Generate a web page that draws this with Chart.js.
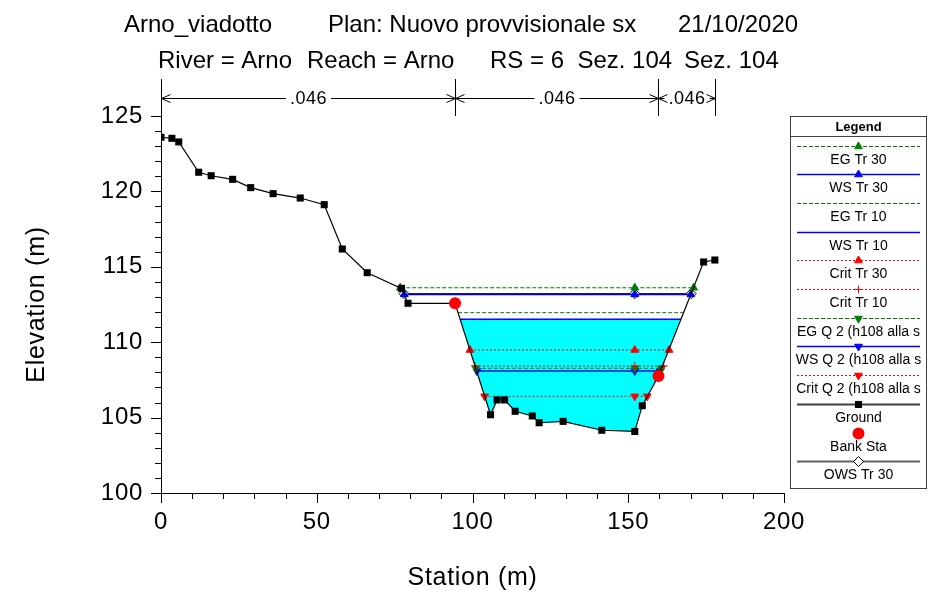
<!DOCTYPE html>
<html>
<head>
<meta charset="utf-8">
<script src="https://cdn.jsdelivr.net/npm/chart.js@4.4.0/dist/chart.umd.min.js"></script>
<style>
html, body { margin: 0; padding: 0; background: #fff; }
#wrap { width: 932px; height: 598px; }
</style>
</head>
<body>
<div id="wrap"><canvas id="xsChart" width="932" height="598"></canvas></div>
<script>
// Ground profile (station m, elevation m)
var groundSta = [0, 3.5, 5.7, 12.1, 16.1, 23.0, 28.8, 36.0, 44.7, 52.4, 58.2, 66.2, 77.2, 79.3, 94.4, 105.8, 107.9, 110.3, 113.7, 119.2, 121.4, 129.1, 141.5, 152.1, 154.5, 159.7, 174.2, 177.8];
var groundElev = [123.59, 123.52, 123.28, 121.27, 121.04, 120.80, 120.25, 119.85, 119.56, 119.12, 116.18, 114.61, 113.57, 112.58, 112.58, 105.19, 106.17, 106.17, 105.42, 105.11, 104.66, 104.75, 104.16, 104.08, 105.79, 107.76, 115.32, 115.45];

// Bank stations
var bankSta = [94.4, 159.7];
var bankElev = [112.58, 107.76];

// Water surface / energy / critical levels
var profileNames = ['EG Tr 30', 'WS Tr 30', 'EG Tr 10', 'WS Tr 10', 'Crit Tr 30', 'Crit Tr 10', 'EG Q 2 (h108 alla s', 'WS Q 2 (h108 alla s', 'Crit Q 2 (h108 alla s'];
var profileElev = [113.61, 113.17, 111.96, 111.52, 109.48, 108.42, 108.27, 108.09, 106.41];
var profileSta = [
  [76.8, 152.1, 171.0],
  [78.1, 152.1, 170.1],
  [95.4, 167.6],
  [96.1, 166.9],
  [99.2, 152.1, 163.1],
  [100.8, 152.1, 161.4],
  [101.1, 152.1, 160.7],
  [101.4, 152.1, 160.3],
  [103.9, 152.1, 156.1]
];

// OWS Tr 30
var owsSta = [78.0, 152.1, 170.2];
var owsElev = 113.22;

// Manning n regions
var nStations = [0, 94.4, 159.7, 177.8];
var nValues = ['.046', '.046', '.046'];

var titleLine1 = ['Arno_viadotto', 'Plan: Nuovo provvisionale sx', '21/10/2020'];
var titleLine2 = ['River = Arno', 'Reach = Arno', 'RS = 6  Sez. 104', 'Sez. 104'];

var FONT = '"Liberation Sans", Arial, sans-serif';
var GREEN = '#008000', BLUE = '#0000FF', RED = '#FF0000';

function levelPoints(sta, elev) {
  return sta.map(function (s) { return { x: s, y: elev }; });
}

var styles = [
  { color: GREEN, dash: [4, 2], width: 1, ps: 'triangle', r: 4.5, rot: 0 },
  { color: BLUE, dash: [], width: 1.5, ps: 'triangle', r: 4.5, rot: 0 },
  { color: GREEN, dash: [4, 2], width: 1, ps: false, r: 0, rot: 0 },
  { color: BLUE, dash: [], width: 1.5, ps: false, r: 0, rot: 0 },
  { color: RED, dash: [2, 2], width: 1, ps: 'triangle', r: 4.5, rot: 0 },
  { color: RED, dash: [2, 2], width: 1, ps: 'cross', r: 4, rot: 0 },
  { color: GREEN, dash: [4, 2], width: 1, ps: 'triangle', r: 4.5, rot: 180 },
  { color: BLUE, dash: [], width: 1.5, ps: 'triangle', r: 4.5, rot: 180 },
  { color: RED, dash: [2, 2], width: 1, ps: 'triangle', r: 4.5, rot: 180 }
];

var datasets = profileNames.map(function (name, i) {
  var st = styles[i];
  return {
    label: name,
    data: levelPoints(profileSta[i], profileElev[i]),
    borderColor: st.color,
    backgroundColor: st.color,
    borderWidth: st.width,
    borderDash: st.dash,
    pointStyle: st.ps,
    pointRadius: st.r,
    pointRotation: st.rot,
    pointBorderWidth: 1,
    fill: false,
    order: 5
  };
});
// water fill under WS Tr 10
datasets[3].fill = { target: 9, above: '#00FFFF', below: '#00FFFF' };
datasets[3].order = 20;

datasets.push({
  label: 'Ground',
  data: groundSta.map(function (s, i) { return { x: s, y: groundElev[i] }; }),
  borderColor: '#000',
  legendLineColor: '#404040',
  legendLineWidth: 2,
  backgroundColor: '#000',
  borderWidth: 1.2,
  pointStyle: 'rect',
  pointRadius: 5,
  pointBorderWidth: 0,
  fill: false,
  order: 2
});
datasets.push({
  label: 'Bank Sta',
  data: bankSta.map(function (s, i) { return { x: s, y: bankElev[i] }; }),
  showLine: false,
  borderColor: RED,
  backgroundColor: RED,
  pointStyle: 'circle',
  pointRadius: 6,
  pointBorderWidth: 0,
  fill: false,
  order: 1
});
datasets.push({
  label: 'OWS Tr 30',
  data: levelPoints(owsSta, owsElev),
  borderColor: '#000',
  legendLineColor: '#606060',
  legendLineWidth: 2,
  backgroundColor: '#fff',
  pointBorderColor: '#000',
  borderWidth: 1,
  pointStyle: 'rectRot',
  pointRadius: 5,
  pointBorderWidth: 1,
  fill: false,
  order: 6
});

var tickPlugin = {
  id: 'hecTicks',
  beforeDraw: function (chart) {
    chart.ctx.letterSpacing = '0.7px';
  },
  afterDraw: function (chart) {
    var ctx = chart.ctx, xs = chart.scales.x, ys = chart.scales.y, a = chart.chartArea;
    ctx.save();
    ctx.strokeStyle = '#000';
    ctx.lineWidth = 1;
    ctx.beginPath();
    for (var v = 0; v <= 200; v += 10) {
      var px = Math.round(xs.getPixelForValue(v)) + 0.5;
      ctx.moveTo(px, a.bottom);
      ctx.lineTo(px, a.bottom + (v % 50 === 0 ? 10 : 6));
    }
    for (var e = 100; e <= 125; e += 1) {
      var py = Math.round(ys.getPixelForValue(e)) + 0.5;
      ctx.moveTo(a.left, py);
      ctx.lineTo(a.left - (e % 5 === 0 ? 10 : 6), py);
    }
    ctx.stroke();
    ctx.restore();
  }
};

var roughPlugin = {
  id: 'hecRoughness',
  afterDraw: function (chart) {
    var ctx = chart.ctx, xs = chart.scales.x;
    var yA = 98.5;
    ctx.save();
    ctx.strokeStyle = '#000';
    ctx.fillStyle = '#000';
    ctx.lineWidth = 1;
    ctx.setLineDash([]);
    ctx.letterSpacing = '0.5px';
    ctx.font = '18px ' + FONT;
    ctx.textAlign = 'center';
    ctx.textBaseline = 'middle';
    var pxs = nStations.map(function (s) { return Math.round(xs.getPixelForValue(s)) + 0.5; });
    ctx.beginPath();
    pxs.forEach(function (px) { ctx.moveTo(px, 79); ctx.lineTo(px, 116); });
    ctx.stroke();
    for (var i = 0; i < nValues.length; i++) {
      var x1 = pxs[i], x2 = pxs[i + 1], mid = (x1 + x2) / 2;
      var tw = ctx.measureText(nValues[i]).width;
      var gap = tw / 2 + 4;
      var ah = Math.min(9, (x2 - x1) / 2 - tw / 2);
      ctx.beginPath();
      if (mid - gap > x1) { ctx.moveTo(x1, yA); ctx.lineTo(mid - gap, yA); }
      if (mid + gap < x2) { ctx.moveTo(mid + gap, yA); ctx.lineTo(x2, yA); }
      ctx.moveTo(x1 + ah, yA - 4); ctx.lineTo(x1, yA); ctx.lineTo(x1 + ah, yA + 4);
      ctx.moveTo(x2 - ah, yA - 4); ctx.lineTo(x2, yA); ctx.lineTo(x2 - ah, yA + 4);
      ctx.stroke();
      ctx.fillText(nValues[i], mid, yA + 1);
    }
    ctx.restore();
  }
};

var titlePlugin = {
  id: 'hecTitle',
  afterDraw: function (chart) {
    var ctx = chart.ctx;
    ctx.save();
    ctx.fillStyle = '#000';
    ctx.font = '24px ' + FONT;
    ctx.letterSpacing = '0px';
    ctx.textAlign = 'left';
    ctx.textBaseline = 'alphabetic';
    var x1 = [124, 328, 678];
    titleLine1.forEach(function (t, i) { ctx.fillText(t, x1[i], 32); });
    var x2 = [158, 307, 490, 684];
    titleLine2.forEach(function (t, i) { ctx.fillText(t, x2[i], 68); });
    ctx.restore();
  }
};

var legendPlugin = {
  id: 'hecLegend',
  afterDraw: function (chart) {
    var ctx = chart.ctx;
    var cx = 858.5, lx1 = 797, lx2 = 920;
    ctx.save();
    ctx.letterSpacing = '0px';
    ctx.fillStyle = '#fff';
    ctx.fillRect(790.5, 116.5, 136, 372);
    ctx.strokeStyle = '#404040';
    ctx.lineWidth = 1;
    ctx.strokeRect(790.5, 116.5, 136, 372);
    ctx.beginPath();
    ctx.moveTo(790.5, 136.5);
    ctx.lineTo(926.5, 136.5);
    ctx.stroke();
    ctx.fillStyle = '#000';
    ctx.font = 'bold 13px ' + FONT;
    ctx.textAlign = 'center';
    ctx.textBaseline = 'alphabetic';
    ctx.fillText('Legend', cx, 131);
    chart.data.datasets.forEach(function (ds, i) {
      var y = 145.5 + i * 28.7;
      ctx.save();
      if (ds.showLine !== false) {
        ctx.setLineDash(ds.borderDash || []);
        ctx.strokeStyle = ds.legendLineColor || ds.borderColor;
        ctx.lineWidth = ds.legendLineWidth || ds.borderWidth;
        ctx.beginPath();
        ctx.moveTo(lx1, Math.round(y) + 0.5);
        ctx.lineTo(lx2, Math.round(y) + 0.5);
        ctx.stroke();
      }
      if (ds.pointStyle && ds.pointRadius > 0) {
        ctx.setLineDash([]);
        ctx.fillStyle = ds.backgroundColor;
        ctx.strokeStyle = ds.pointBorderColor || ds.borderColor;
        ctx.lineWidth = ds.pointBorderWidth;
        Chart.helpers.drawPoint(ctx, {
          pointStyle: ds.pointStyle,
          radius: ds.pointRadius,
          rotation: ds.pointRotation || 0,
          borderWidth: ds.pointBorderWidth
        }, cx, Math.round(y) + 0.5);
      }
      ctx.restore();
      ctx.fillStyle = '#000';
      ctx.font = '14px ' + FONT;
      ctx.fillText(ds.label, cx, y + 18);
    });
    ctx.restore();
  }
};

var ctx = document.getElementById('xsChart').getContext('2d');
var xsChart = new Chart(ctx, {
  type: 'line',
  data: { datasets: datasets },
  options: {
    responsive: false,
    animation: false,
    devicePixelRatio: 1,
    layout: { padding: { left: 0, right: 148, top: 116, bottom: 0 } },
    plugins: {
      legend: { display: false },
      tooltip: { enabled: false }
    },
    elements: { line: { tension: 0 } },
    scales: {
      x: {
        type: 'linear',
        min: 0,
        max: 200,
        afterFit: function (s) { s.height = 105; },
        grid: { display: false, drawTicks: false },
        border: { display: true, color: '#000', width: 1 },
        ticks: { stepSize: 50, color: '#000', padding: 15, font: { family: FONT, size: 24 } },
        title: { display: true, text: 'Station (m)', color: '#000', padding: { top: 0, bottom: 5 }, font: { family: FONT, size: 25 } }
      },
      y: {
        type: 'linear',
        min: 100,
        max: 125,
        afterFit: function (s) { s.width = 161; },
        grid: { display: false, drawTicks: false },
        border: { display: true, color: '#000', width: 1 },
        ticks: { stepSize: 5, color: '#000', padding: 18, font: { family: FONT, size: 24 } },
        title: { display: true, text: 'Elevation (m)', color: '#000', padding: { top: 22, bottom: 0 }, font: { family: FONT, size: 25 } }
      }
    }
  },
  plugins: [tickPlugin, roughPlugin, titlePlugin, legendPlugin]
});
</script>
</body>
</html>
